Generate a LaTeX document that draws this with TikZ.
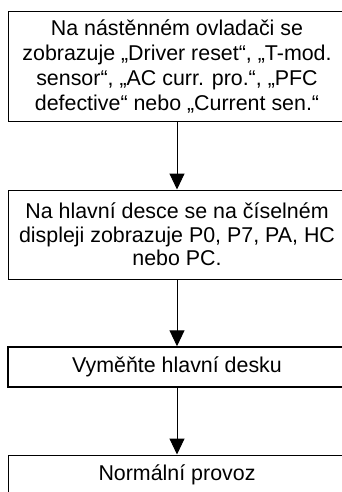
\documentclass[tikz,border=0pt]{standalone}
\usepackage{fontspec}
\setmainfont{Liberation Sans}
\usetikzlibrary{arrows.meta}

\begin{document}
\begin{tikzpicture}[x=1pt,y=-1pt,>={Triangle[width=15pt,length=16pt]},
  box/.style={draw,line width=1pt,minimum width=338pt,inner sep=0pt,align=center,
    font=\fontsize{21.4}{25}\selectfont}]
\useasboundingbox (0,0) rectangle (341,492);
\node[box,minimum height=109pt] (remote) at (177,66.5) {Na nástěnném ovladači se\\zobrazuje „Driver reset“, „T-mod.\\sensor“, „AC curr. pro.“, „PFC\\defective“ nebo „Current sen.“};
\node[box,minimum height=89pt,font=\fontsize{21.4}{23.5}\selectfont] (board) at (177,234.5) {Na hlavní desce se na číselném\\displeji zobrazuje P0, P7, PA, HC\\nebo PC.};
\node[box,minimum height=40pt,line width=1.5pt] (swap) at (177,367) {Vyměňte hlavní desku};
\node[box,minimum height=40pt] (normal) at (177,475) {Normální provoz};
\draw[->,line width=1pt] (remote) -- (board);
\draw[->,line width=1pt] (board) -- (swap);
\draw[->,line width=1pt] (swap) -- (normal);
\end{tikzpicture}
\end{document}
